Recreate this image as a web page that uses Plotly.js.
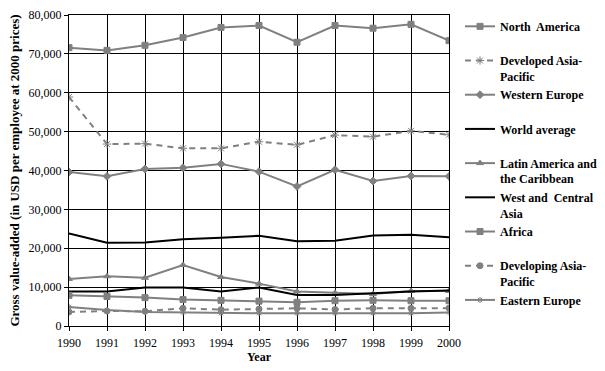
<!DOCTYPE html>
<html>
<head>
<meta charset="utf-8">
<script src="https://cdn.plot.ly/plotly-3.0.1.min.js"></script>
<style>html,body{margin:0;padding:0;background:#fff;}#chart{width:605px;height:371px;}</style>
</head>
<body>
<div id="chart"></div>
<script>
const years = [1990,1991,1992,1993,1994,1995,1996,1997,1998,1999,2000];
const northAmerica = [71600,70900,72200,74200,76800,77300,73000,77300,76600,77600,73400];
const developedAsiaPacific = [58900,46800,46900,45700,45700,47400,46600,49100,48700,50200,49200];
const westernEurope = [39600,38500,40400,40700,41700,39700,35900,40200,37300,38600,38500];
const worldAverage = [23800,21400,21500,22300,22700,23200,21800,21900,23300,23500,22800];
const latinAmerica = [12100,12800,12400,15700,12600,10900,8900,8500,8200,9000,9000];
const westCentralAsia = [8900,8900,9900,9900,8900,9900,8000,8000,8400,8900,9100];
const africa = [7900,7600,7300,6800,6600,6400,6100,6500,6600,6500,6500];
const developingAsiaPacific = [3600,3850,3800,4550,4200,4350,4550,4250,4550,4550,4600];
const easternEurope = [4900,4100,3600,3500,3300,3300,3300,3300,3300,3300,3500];

const names = ["North\u00a0 America<br>\u00a0","Developed Asia-<br>Pacific","Western Europe<br>\u00a0","World average<br>\u00a0",
  "Latin America and<br>the Caribbean","West and\u00a0 Central<br>Asia","Africa<br>\u00a0","Developing Asia-<br>Pacific","Eastern Europe<br>\u00a0"];
const series = [northAmerica,developedAsiaPacific,westernEurope,worldAverage,latinAmerica,westCentralAsia,africa,developingAsiaPacific,easternEurope];
const gray = '#808080';
const styles = [
  {color:gray, dash:'solid', symbol:'square', size:6},
  {color:gray, dash:'6px,5px', symbol:'asterisk-open', size:7},
  {color:gray, dash:'solid', symbol:'diamond', size:6},
  {color:'#000', dash:'solid', symbol:null},
  {color:gray, dash:'solid', symbol:'triangle-up', size:6},
  {color:'#000', dash:'solid', symbol:null},
  {color:gray, dash:'solid', symbol:'square', size:6},
  {color:gray, dash:'6px,5px', symbol:'circle', size:6},
  {color:gray, dash:'solid', symbol:'asterisk-open', size:5}
];
const traces = series.map((s,i)=>{
  const st = styles[i];
  const t = {x:years, y:s, name:names[i], type:'scatter', legendgroup:'g'+i,
    mode: st.symbol ? 'lines+markers' : 'lines',
    line:{color:st.color, width:2, dash:st.dash}};
  if(st.symbol){ t.marker = {symbol:st.symbol, size:st.size, color:st.color, line:{color:st.color, width:1}}; }
  return t;
});
const serif = 'Liberation Serif, Times New Roman, serif';
const layout = {
  width:605, height:371,
  margin:{l:69, r:156, t:15, b:44.5, pad:0, autoexpand:false},
  paper_bgcolor:'#fff', plot_bgcolor:'#fff',
  font:{family:serif, size:12, color:'#000'},
  showlegend:true,
  legend:{x:1.029, xanchor:'left', y:1.0096, yanchor:'top', tracegroupgap:0, valign:'top', maxheight:365,
    font:{family:serif, size:12, color:'#000', weight:'bold'}, bgcolor:'rgba(0,0,0,0)', itemwidth:30},
  xaxis:{range:[1990,2000], tickvals:years, ticktext:years.map(String), showgrid:true, gridcolor:'#000', gridwidth:1,
    showline:true, linecolor:'#000', linewidth:1, mirror:true, ticks:'outside', ticklen:4, tickcolor:'#000',
    zeroline:false, tickfont:{family:serif, size:12}, ticklabelstandoff:2, automargin:false,
    title:{text:'<b>Year</b>', font:{family:serif, size:12}, standoff:0}},
  yaxis:{range:[0,80000], dtick:10000, tickformat:',d', showgrid:true, gridcolor:'#000', gridwidth:1,
    showline:true, linecolor:'#000', linewidth:1, mirror:true, ticks:'outside', ticklen:4, tickcolor:'#000',
    zeroline:false, tickfont:{family:serif, size:12}, automargin:false,
    title:{text:'<b>Gross value-added (in USD per employee at 2000 prices)</b>', font:{family:serif, size:13}, standoff:6}}
};
Plotly.newPlot('chart', traces, layout, {displayModeBar:false, staticPlot:true});
</script>
</body>
</html>
